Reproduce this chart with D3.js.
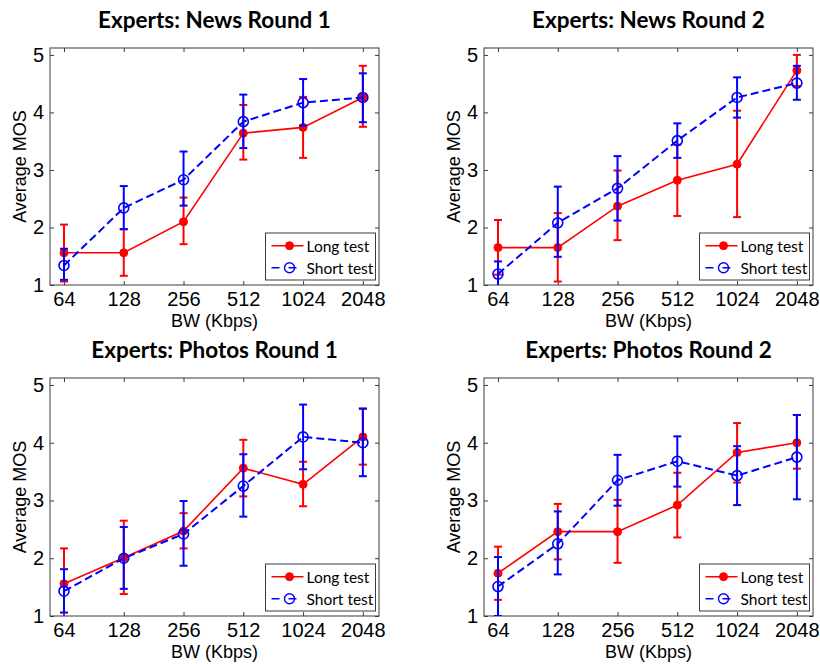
<!DOCTYPE html>
<html>
<head>
<meta charset="utf-8">
<script src="https://cdn.jsdelivr.net/npm/d3@7"></script>
<style>
  html, body { margin: 0; padding: 0; background: #fff; }
  svg { display: block; }
</style>
</head>
<body>
<svg id="chart" width="820" height="664"></svg>
<script>
// ---------------- DATA ----------------
const bandwidths = [64, 128, 256, 512, 1024, 2048];
const xTickLabels = ["64", "128", "256", "512", "1024", "2048"];
const yTicks = [1, 2, 3, 4, 5];
const panelTitles = ["Experts: News Round 1", "Experts: News Round 2", "Experts: Photos Round 1", "Experts: Photos Round 2"];
const seriesNames = ["Long test", "Short test"];
const xAxisLabel = "BW (Kbps)";
const yAxisLabel = "Average MOS";

// News Round 1
const newsR1LongMean  = [1.56, 1.56, 2.10, 3.64, 3.74, 4.26];
const newsR1LongLo    = [1.06, 1.16, 1.71, 3.18, 3.21, 3.75];
const newsR1LongHi    = [2.05, 1.97, 2.52, 4.13, 4.27, 4.81];
const newsR1ShortMean = [1.34, 2.34, 2.83, 3.84, 4.17, 4.26];
const newsR1ShortLo   = [1.09, 1.97, 2.38, 3.38, 3.77, 3.83];
const newsR1ShortHi   = [1.63, 2.72, 3.32, 4.31, 4.58, 4.68];

// News Round 2
const newsR2LongMean  = [1.65, 1.65, 2.37, 2.82, 3.10, 4.73];
const newsR2LongLo    = [1.18, 1.06, 1.78, 2.20, 2.18, 4.46];
const newsR2LongHi    = [2.13, 2.25, 2.99, 3.44, 4.03, 5.00];
const newsR2ShortMean = [1.19, 2.08, 2.68, 3.51, 4.26, 4.51];
const newsR2ShortLo   = [0.98, 1.49, 2.12, 3.21, 3.91, 4.22];
const newsR2ShortHi   = [1.41, 2.71, 3.24, 3.81, 4.61, 4.81];

// Photos Round 1
const photosR1LongMean  = [1.56, 2.01, 2.47, 3.56, 3.28, 4.10];
const photosR1LongLo    = [0.97, 1.38, 2.17, 3.07, 2.90, 3.62];
const photosR1LongHi    = [2.17, 2.65, 2.78, 4.05, 3.67, 4.59];
const photosR1ShortMean = [1.43, 2.00, 2.42, 3.25, 4.10, 4.00];
const photosR1ShortLo   = [1.06, 1.47, 1.87, 2.72, 3.54, 3.42];
const photosR1ShortHi   = [1.81, 2.54, 2.99, 3.80, 4.66, 4.59];

// Photos Round 2
const photosR2LongMean  = [1.74, 2.46, 2.46, 2.92, 3.83, 4.00];
const photosR2LongLo    = [1.28, 1.98, 1.92, 2.36, 3.31, 3.55];
const photosR2LongHi    = [2.20, 2.94, 3.01, 3.48, 4.34, 4.48];
const photosR2ShortMean = [1.51, 2.25, 3.35, 3.68, 3.43, 3.75];
const photosR2ShortLo   = [1.00, 1.72, 2.91, 3.24, 2.92, 3.02];
const photosR2ShortHi   = [2.02, 2.81, 3.79, 4.11, 3.94, 4.48];

const panelData = [
  { long: [newsR1LongMean, newsR1LongLo, newsR1LongHi], short: [newsR1ShortMean, newsR1ShortLo, newsR1ShortHi] },
  { long: [newsR2LongMean, newsR2LongLo, newsR2LongHi], short: [newsR2ShortMean, newsR2ShortLo, newsR2ShortHi] },
  { long: [photosR1LongMean, photosR1LongLo, photosR1LongHi], short: [photosR1ShortMean, photosR1ShortLo, photosR1ShortHi] },
  { long: [photosR2LongMean, photosR2LongLo, photosR2LongHi], short: [photosR2ShortMean, photosR2ShortLo, photosR2ShortHi] }
];

// ---------------- LAYOUT ----------------
const boxes = [
  { left: 50,  right: 379, top: 48,  bottom: 285 },
  { left: 484, right: 813, top: 48,  bottom: 285 },
  { left: 50,  right: 379, top: 378, bottom: 616 },
  { left: 484, right: 813, top: 378, bottom: 616 }
];
const RED = "#ff0000", BLUE = "#0000ff", AXIS = "#3a3a3a";
const tickFont = "'Liberation Sans', Arial, sans-serif";
const titleFont = "Lato, 'Open Sans', sans-serif";

const svg = d3.select("#chart");

boxes.forEach((b, i) => {
  const g = svg.append("g");
  const x = d3.scaleLog().base(2)
    .domain([Math.pow(2, 5.766), Math.pow(2, 11.27)])
    .range([b.left, b.right]);
  const y = d3.scaleLinear().domain([1, 5.12]).range([b.bottom, b.top]);

  const clipId = "clip" + i;
  svg.append("clipPath").attr("id", clipId).append("rect")
    .attr("x", b.left).attr("y", b.top)
    .attr("width", b.right - b.left).attr("height", b.bottom - b.top);

  // axes (all four sides, inward ticks)
  const w = b.right - b.left, h = b.bottom - b.top;
  g.append("g").attr("transform", `translate(0,${b.bottom})`)
    .call(d3.axisBottom(x).tickValues(bandwidths).tickFormat((d, k) => xTickLabels[k]).tickSizeInner(-4).tickSizeOuter(0).tickPadding(7))
    .call(s => s.selectAll("text").attr("font-family", tickFont).attr("font-size", 20).attr("fill", "#000"));
  g.append("g").attr("transform", `translate(0,${b.top})`)
    .call(d3.axisTop(x).tickValues(bandwidths).tickFormat("").tickSizeInner(-4).tickSizeOuter(0));
  g.append("g").attr("transform", `translate(${b.left},0)`)
    .call(d3.axisLeft(y).tickValues(yTicks).tickFormat(d3.format("d")).tickSizeInner(-4).tickSizeOuter(0).tickPadding(6))
    .call(s => s.selectAll("text").attr("font-family", tickFont).attr("font-size", 20).attr("fill", "#000"));
  g.append("g").attr("transform", `translate(${b.right},0)`)
    .call(d3.axisRight(y).tickValues(yTicks).tickFormat("").tickSizeInner(-4).tickSizeOuter(0));
  g.selectAll(".domain").remove();
  g.selectAll(".tick line").attr("stroke", AXIS);
  g.append("rect").attr("x", b.left).attr("y", b.top).attr("width", w).attr("height", h)
    .attr("fill", "none").attr("stroke", AXIS).attr("stroke-width", 1);

  // title
  g.append("text").attr("x", (b.left + b.right) / 2).attr("y", b.top - 20)
    .attr("text-anchor", "middle").attr("font-family", titleFont).attr("font-weight", "bold")
    .attr("font-size", 22.5).attr("fill", "#000").text(panelTitles[i]);
  // x label
  g.append("text").attr("x", (b.left + b.right) / 2).attr("y", b.bottom + 41.5)
    .attr("text-anchor", "middle").attr("font-family", tickFont).attr("font-size", 18)
    .attr("fill", "#000").text(xAxisLabel);
  // y label
  g.append("text").attr("transform", `translate(${b.left - 24.5},${(b.top + b.bottom) / 2}) rotate(-90)`)
    .attr("text-anchor", "middle").attr("font-family", tickFont).attr("font-size", 18)
    .attr("fill", "#000").text(yAxisLabel);

  // series
  const plot = g.append("g").attr("clip-path", `url(#${clipId})`);
  const series = [
    { vals: panelData[i].long,  color: RED,  dash: null,  lw: 1.6, filled: true,  r: 4 },
    { vals: panelData[i].short, color: BLUE, dash: "8,4", lw: 2,   filled: false, r: 5 }
  ];
  series.forEach(s => {
    const [mean, lo, hi] = s.vals;
    const pts = bandwidths.map((bw, k) => ({ bw, m: mean[k], lo: lo[k], hi: hi[k] }));
    // error bars
    const eb = plot.append("g").attr("stroke", s.color).attr("stroke-width", 2).attr("fill", "none");
    eb.selectAll("line.v").data(pts).join("line").attr("class", "v")
      .attr("x1", d => x(d.bw)).attr("x2", d => x(d.bw))
      .attr("y1", d => y(d.lo)).attr("y2", d => y(d.hi));
    eb.selectAll("line.t").data(pts).join("line").attr("class", "t")
      .attr("x1", d => x(d.bw) - 4).attr("x2", d => x(d.bw) + 4)
      .attr("y1", d => y(d.hi)).attr("y2", d => y(d.hi));
    eb.selectAll("line.b").data(pts).join("line").attr("class", "b")
      .attr("x1", d => x(d.bw) - 4).attr("x2", d => x(d.bw) + 4)
      .attr("y1", d => y(d.lo)).attr("y2", d => y(d.lo));
    // line
    plot.append("path").datum(pts)
      .attr("d", d3.line().x(d => x(d.bw)).y(d => y(d.m)))
      .attr("fill", "none").attr("stroke", s.color).attr("stroke-width", s.lw)
      .attr("stroke-dasharray", s.dash);
    // markers
    plot.append("g").selectAll("circle").data(pts).join("circle")
      .attr("cx", d => x(d.bw)).attr("cy", d => y(d.m)).attr("r", s.r)
      .attr("fill", s.filled ? s.color : "none")
      .attr("stroke", s.color).attr("stroke-width", s.filled ? 1 : 1.6);
  });

  // legend
  const lx = b.right - 113.5, ly = b.bottom - 52;
  const lg = g.append("g");
  lg.append("rect").attr("x", lx).attr("y", ly).attr("width", 110).attr("height", 47)
    .attr("fill", "#fff").attr("stroke", AXIS).attr("stroke-width", 1);
  series.forEach((s, k) => {
    const ry = ly + 12.7 + k * 22;
    lg.append("line").attr("x1", lx + 6).attr("x2", lx + 38).attr("y1", ry).attr("y2", ry)
      .attr("stroke", s.color).attr("stroke-width", 1.6)
      .attr("stroke-dasharray", s.filled ? null : "8,9");
    lg.append("circle").attr("cx", lx + 24).attr("cy", ry).attr("r", s.r)
      .attr("fill", s.filled ? s.color : "none").attr("stroke", s.color).attr("stroke-width", s.filled ? 1 : 1.4);
    lg.append("text").attr("x", lx + 41).attr("y", ry + 6)
      .attr("font-family", titleFont).attr("font-size", 15.5).attr("fill", "#000").text(seriesNames[k]);
  });
});
</script>
</body>
</html>
